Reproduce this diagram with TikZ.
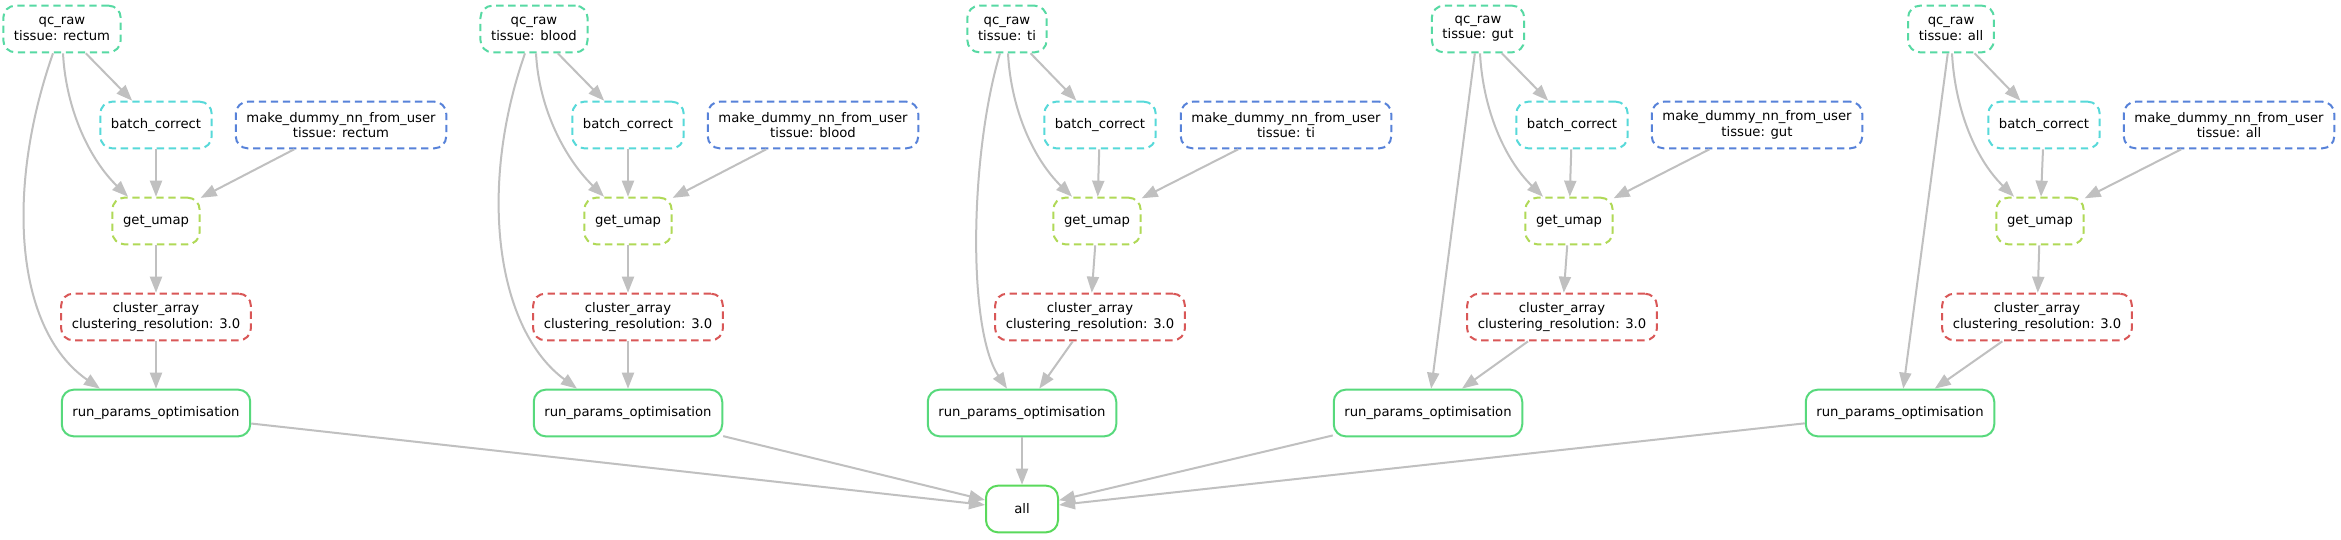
\documentclass[tikz,border=0pt]{standalone}
\usepackage{fontspec}
\setmainfont{DejaVu Sans}
\usetikzlibrary{arrows.meta,calc}
\definecolor{cqc}{RGB}{87,217,163}
\definecolor{cbc}{RGB}{87,217,217}
\definecolor{cmk}{RGB}{87,130,217}
\definecolor{cum}{RGB}{176,217,87}
\definecolor{ccl}{RGB}{217,87,87}
\definecolor{crp}{RGB}{87,217,124}
\definecolor{call}{RGB}{90,217,92}
\definecolor{edgegrey}{RGB}{192,192,192}
\tikzset{
  nd/.style={draw, line width=1.5pt, rounded corners=9pt, minimum width=54pt,
    minimum height=35pt, inner xsep=8pt, inner ysep=2pt, align=center,
    fill=white, font=\fontsize{9.9}{11.5}\selectfont},
  dsh/.style={dash pattern=on 5.5pt off 3.5pt},
  qcst/.style={nd, dsh, draw=cqc},
  bcst/.style={nd, dsh, draw=cbc},
  mkst/.style={nd, dsh, draw=cmk},
  umst/.style={nd, dsh, draw=cum},
  clst/.style={nd, dsh, draw=ccl},
  rpst/.style={nd, draw=crp},
  allst/.style={nd, draw=call},
  conn/.style={draw=edgegrey, line width=1.5pt, -{Triangle[length=12pt,width=9pt]}}
}
\begin{document}
\begin{tikzpicture}[x=0.75pt,y=-0.75pt]
\fill[white] (0,0) rectangle (2341,539);
\useasboundingbox (0,0) rectangle (2341,539);

% rectum
\node[qcst] (qcR) at (62,29) {qc\_raw\\tissue: rectum};
\node[bcst] (bcR) at (156,125) {batch\_correct};
\node[mkst] (mkR) at (341,125) {make\_dummy\_nn\_from\_user\\tissue: rectum};
\node[umst] (umR) at (156,221) {get\_umap};
\node[clst] (clR) at (156,317) {cluster\_array\\clustering\_resolution: 3.0};
\node[rpst] (rpR) at (156,413) {run\_params\_optimisation};
% blood
\node[qcst] (qcB) at (534,29) {qc\_raw\\tissue: blood};
\node[bcst] (bcB) at (628,125) {batch\_correct};
\node[mkst] (mkB) at (813,125) {make\_dummy\_nn\_from\_user\\tissue: blood};
\node[umst] (umB) at (628,221) {get\_umap};
\node[clst] (clB) at (628,317) {cluster\_array\\clustering\_resolution: 3.0};
\node[rpst] (rpB) at (628,413) {run\_params\_optimisation};
% ti
\node[qcst] (qcT) at (1007,29) {qc\_raw\\tissue: ti};
\node[bcst] (bcT) at (1100,125) {batch\_correct};
\node[mkst] (mkT) at (1286,125) {make\_dummy\_nn\_from\_user\\tissue: ti};
\node[umst] (umT) at (1097,221) {get\_umap};
\node[clst] (clT) at (1090,317) {cluster\_array\\clustering\_resolution: 3.0};
\node[rpst] (rpT) at (1022,413) {run\_params\_optimisation};
% gut
\node[qcst] (qcG) at (1478,29) {qc\_raw\\tissue: gut};
\node[bcst] (bcG) at (1572,125) {batch\_correct};
\node[mkst] (mkG) at (1757,125) {make\_dummy\_nn\_from\_user\\tissue: gut};
\node[umst] (umG) at (1569,221) {get\_umap};
\node[clst] (clG) at (1562,317) {cluster\_array\\clustering\_resolution: 3.0};
\node[rpst] (rpG) at (1428,413) {run\_params\_optimisation};
% all
\node[qcst] (qcA) at (1951,29) {qc\_raw\\tissue: all};
\node[bcst] (bcA) at (2044,125) {batch\_correct};
\node[mkst] (mkA) at (2229,125) {make\_dummy\_nn\_from\_user\\tissue: all};
\node[umst] (umA) at (2040,221) {get\_umap};
\node[clst] (clA) at (2037,317) {cluster\_array\\clustering\_resolution: 3.0};
\node[rpst] (rpA) at (1900,413) {run\_params\_optimisation};
% final
\node[allst] (all) at (1022,509) {all};

% edges rectum
\draw[conn] (qcR) -- (bcR);
\draw[conn] ($(qcR.south)+(1,0)$) .. controls +(3,57) and +(-38,-37) .. ($(umR.north)+(-28,0)$);
\draw[conn] ($(qcR.south)+(-9,0)$) .. controls +(-48,137) and +(-85,-59) .. ($(rpR.north)+(-56,0)$);
\draw[conn] (mkR) -- (umR);
\draw[conn] (bcR) -- (umR);
\draw[conn] (umR) -- (clR);
\draw[conn] (clR) -- (rpR);
\draw[conn] (rpR) -- (all);
% edges blood
\draw[conn] (qcB) -- (bcB);
\draw[conn] ($(qcB.south)+(2,0)$) .. controls +(3,57) and +(-38,-37) .. ($(umB.north)+(-24,0)$);
\draw[conn] ($(qcB.south)+(-9,0)$) .. controls +(-48,137) and +(-80,-59) .. ($(rpB.north)+(-51,0)$);
\draw[conn] (mkB) -- (umB);
\draw[conn] (bcB) -- (umB);
\draw[conn] (umB) -- (clB);
\draw[conn] (clB) -- (rpB);
\draw[conn] (rpB) -- (all);
% edges ti
\draw[conn] (qcT) -- (bcT);
\draw[conn] ($(qcT.south)+(1,0)$) .. controls +(3,57) and +(-38,-37) .. ($(umT.north)+(-25,0)$);
\draw[conn] ($(qcT.south)+(-7,0)$) .. controls +(-30,100) and +(-40,-60) .. ($(rpT.north)+(-15,0)$);
\draw[conn] (mkT) -- (umT);
\draw[conn] (bcT) -- (umT);
\draw[conn] (umT) -- (clT);
\draw[conn] (clT) -- (rpT);
\draw[conn] (rpT) -- (all);
% edges gut
\draw[conn] (qcG) -- (bcG);
\draw[conn] ($(qcG.south)+(2,0)$) .. controls +(3,57) and +(-38,-37) .. ($(umG.north)+(-26,0)$);
\draw[conn] (qcG) -- (rpG);
\draw[conn] (mkG) -- (umG);
\draw[conn] (bcG) -- (umG);
\draw[conn] (umG) -- (clG);
\draw[conn] (clG) -- (rpG);
\draw[conn] (rpG) -- (all);
% edges all
\draw[conn] (qcA) -- (bcA);
\draw[conn] ($(qcA.south)+(1,0)$) .. controls +(3,57) and +(-38,-37) .. ($(umA.north)+(-26,0)$);
\draw[conn] (qcA) -- (rpA);
\draw[conn] (mkA) -- (umA);
\draw[conn] (bcA) -- (umA);
\draw[conn] (umA) -- (clA);
\draw[conn] (clA) -- (rpA);
\draw[conn] (rpA) -- (all);
\end{tikzpicture}
\end{document}
